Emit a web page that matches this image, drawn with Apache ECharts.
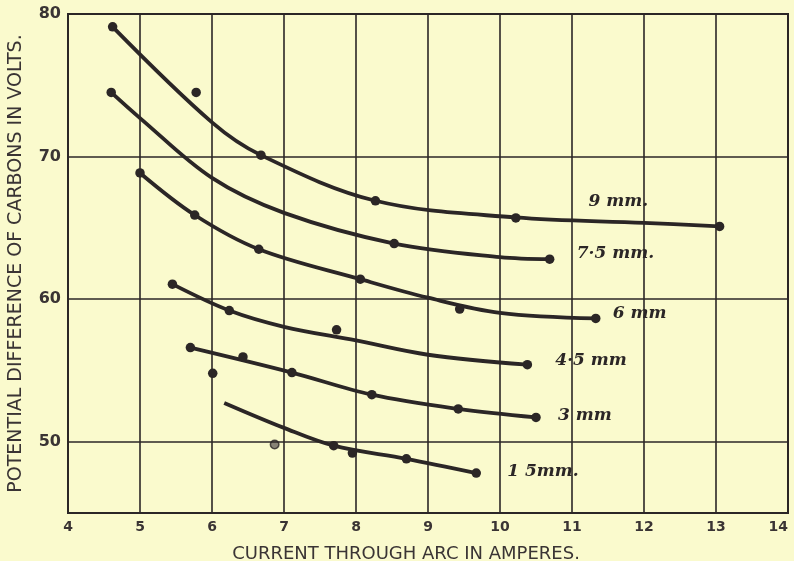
<!DOCTYPE html>
<html><head><meta charset="utf-8">
<script src="https://cdn.jsdelivr.net/npm/echarts@6/dist/echarts.min.js"></script>
<style>html,body{margin:0;padding:0;background:#fafacd;}#c{width:794px;height:561px;}</style>
</head><body><div id="c"></div>
<script>
// Axis ticks
const xTicks = [4,5,6,7,8,9,10,11,12,13,14];
const yLabelTicks = [50,60,70,80];
const yGridLines = [50,60,70];

// Series names
const seriesNames = ['9 mm.', '7·5 mm.', '6 mm', '4·5 mm', '3 mm', '1 5mm.'];

// Observed points (current A, volts)
const mm9Dots  = [[4.62,79.1],[5.78,74.5],[6.68,70.1],[8.27,66.9],[10.22,65.7],[13.05,65.1]];
const mm75Dots = [[4.60,74.5],[8.53,63.9],[10.69,62.8]];
const mm6Dots  = [[5.0,68.85],[5.76,65.9],[6.65,63.5],[8.06,61.4],[9.44,59.3],[11.33,58.65]];
const mm45Dots = [[5.45,61.05],[6.24,59.2],[7.73,57.85],[10.38,55.4]];
const mm3Dots  = [[5.70,56.6],[6.01,54.8],[6.43,55.95],[7.11,54.85],[8.22,53.3],[9.42,52.3],[10.50,51.7]];
const mm15Dots = [[7.69,49.72],[7.95,49.2],[8.70,48.8],[9.67,47.8]];
const mm15Faint = [[6.87,49.8]];

// Drawn curves
const mm9Curve  = [[4.62,79.1],[6,72.4],[6.68,70.1],[8.27,66.9],[10.22,65.73],[12,65.35],[13.05,65.1]];
const mm75Curve = [[4.60,74.5],[5,72.7],[6,68.5],[7,66.05],[8.53,63.9],[10,62.95],[10.69,62.8]];
const mm6Curve  = [[5.0,68.85],[5.76,65.9],[6.65,63.5],[8.06,61.4],[9,60.1],[10,59.04],[11.33,58.65]];
const mm45Curve = [[5.45,61.05],[6.24,59.2],[7,58.06],[8,57.1],[9,56.1],[10.38,55.4]];
const mm3Curve  = [[5.70,56.6],[7.11,54.85],[8.22,53.3],[9.42,52.3],[10.50,51.7]];
const mm15Curve = [[6.17,52.72],[7,50.97],[7.69,49.72],[8.70,48.8],[9.67,47.8]];

const INK = '#2b2626';
const curves = [mm9Curve, mm75Curve, mm6Curve, mm45Curve, mm3Curve, mm15Curve];
const dots = [mm9Dots, mm75Dots, mm6Dots, mm45Dots, mm3Dots, mm15Dots];
const labelOffsets = [[-131,-25],[27,-6],[17,-5],[28,-4],[22,-2],[31,-2]];

const series = [];
curves.forEach((c, i) => {
  series.push({
    type: 'line', name: seriesNames[i], data: c, smooth: 0.35, showSymbol: false, symbol: 'none',
    lineStyle: {color: INK, width: 3.8}, z: 3,
    endLabel: {show: true, formatter: seriesNames[i], distance: 0, offset: labelOffsets[i],
      align: 'left', verticalAlign: 'middle',
      fontFamily: 'DejaVu Serif', fontStyle: 'italic', fontWeight: 'bold', fontSize: 17, color: INK}
  });
  series.push({
    type: 'scatter', data: dots[i], symbol: 'circle', symbolSize: 9.5,
    itemStyle: {color: INK, opacity: 1}, z: 4
  });
});
series.push({
  type: 'scatter', data: mm15Faint, symbol: 'circle', symbolSize: 8.5,
  itemStyle: {color: '#6b6560', borderColor: INK, borderWidth: 1.5}, z: 4
});
series.push({
  type: 'line', data: [], silent: true,
  markLine: {symbol: 'none', silent: true, label: {show: false}, animation: false,
    lineStyle: {color: INK, width: 1.6, type: 'solid'},
    data: yGridLines.map(v => ({yAxis: v}))}
});

const chart = echarts.init(document.getElementById('c'), null, {renderer: 'canvas'});
chart.setOption({
  backgroundColor: '#fafacd',
  animation: false,
  grid: {left: 68, right: 6, top: 14, bottom: 48, outerBoundsMode: 'none', containLabel: false,
    show: true, borderColor: INK, borderWidth: 2},
  xAxis: {
    type: 'value', min: xTicks[0], max: xTicks[xTicks.length-1], interval: 1,
    name: 'CURRENT THROUGH ARC IN AMPERES.', nameLocation: 'middle', nameGap: 32,
    nameTextStyle: {fontFamily: 'DejaVu Sans', fontSize: 18, color: '#3a3434', padding: [0, 44, 0, 0]},
    axisLine: {show: true, lineStyle: {color: INK, width: 2}},
    axisTick: {show: false},
    axisLabel: {margin: 7, alignMaxLabel: 'right', fontFamily: 'DejaVu Sans', fontWeight: 'bold', fontSize: 14, color: '#3a3434'},
    splitLine: {show: true, lineStyle: {color: INK, width: 1.6}}
  },
  yAxis: {
    type: 'value', min: 45, max: 80, interval: 5,
    name: 'POTENTIAL DIFFERENCE OF CARBONS IN VOLTS.', nameLocation: 'middle', nameGap: 42,
    nameTextStyle: {fontFamily: 'DejaVu Sans', fontSize: 19, color: '#3a3434'},
    axisLine: {show: true, lineStyle: {color: INK, width: 2}},
    axisTick: {show: false},
    axisLabel: {margin: 7, fontFamily: 'DejaVu Sans', fontWeight: 'bold', fontSize: 16, color: '#3a3434',
      formatter: v => yLabelTicks.includes(v) ? String(v) : ''},
    splitLine: {show: false}
  },
  series: series
});
</script></body></html>
